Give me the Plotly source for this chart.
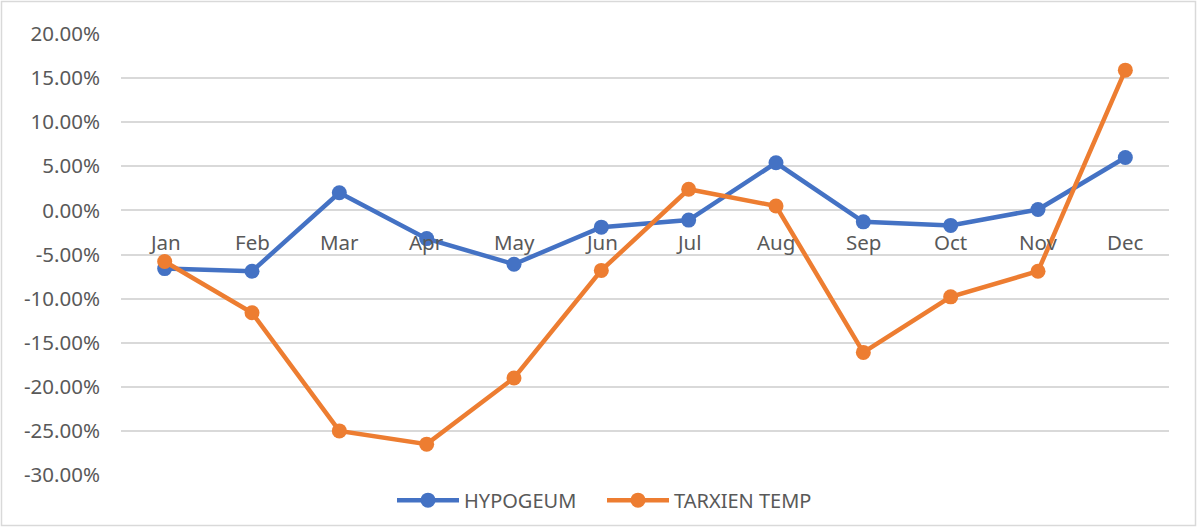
import plotly.graph_objects as go

months = ['Jan', 'Feb', 'Mar', 'Apr', 'May', 'Jun', 'Jul', 'Aug', 'Sep', 'Oct', 'Nov', 'Dec']
hypogeum = [-0.066, -0.069, 0.020, -0.032, -0.061, -0.019, -0.011, 0.054, -0.013, -0.017, 0.001, 0.060]
tarxien = [-0.058, -0.116, -0.250, -0.265, -0.190, -0.068, 0.024, 0.005, -0.161, -0.098, -0.069, 0.159]

y_ticks = [0.20, 0.15, 0.10, 0.05, 0.0, -0.05, -0.10, -0.15, -0.20, -0.25, -0.30]
y_tick_labels = ['20.00%', '15.00%', '10.00%', '5.00%', '0.00%', '-5.00%', '-10.00%',
                 '-15.00%', '-20.00%', '-25.00%', '-30.00%']

W, H = 1197, 527
ML, MR, MT, MB = 121, 28, 34, 52
PW, PH = W - ML - MR, H - MT - MB

font_family = 'Noto Sans, Open Sans, sans-serif'
font_size = 20.5
text_color = '#595959'
grid_color = '#D9D9D9'

fig = go.Figure()

fig.add_trace(go.Scatter(
    x=months, y=hypogeum, name='HYPOGEUM', mode='lines+markers',
    line=dict(color='#4472C4', width=4.5),
    marker=dict(color='#4472C4', size=15)
))
fig.add_trace(go.Scatter(
    x=months, y=tarxien, name='TARXIEN TEMP', mode='lines+markers',
    line=dict(color='#ED7D31', width=4.5),
    marker=dict(color='#ED7D31', size=15)
))

# month labels sit just below the zero line, like Excel's "next to axis"
for m in months:
    fig.add_annotation(
        x=m, y=0, xref='x', yref='y', text=m, showarrow=False,
        yanchor='middle', yshift=-32,
        font=dict(family=font_family, size=font_size, color=text_color)
    )

# chart area border
fig.add_shape(
    type='rect', xref='paper', yref='paper',
    x0=(1.5 - ML) / PW, x1=(W - 1.5 - ML) / PW,
    y0=-(H - 1.5 - MT - PH) / PH, y1=(PH + MT - 1.5) / PH,
    line=dict(color=grid_color, width=1.5), layer='below'
)

fig.update_layout(
    width=W, height=H,
    margin=dict(l=ML, r=MR, t=MT, b=MB, autoexpand=False),
    paper_bgcolor='white', plot_bgcolor='white',
    font=dict(family=font_family, size=font_size, color=text_color),
    showlegend=True,
    legend=dict(
        orientation='h', x=(392 - ML) / PW, xanchor='left', y=-0.057, yanchor='middle',
        font=dict(family=font_family, size=20, color=text_color),
        itemwidth=62, entrywidth=133, bgcolor='rgba(0,0,0,0)'
    ),
    xaxis=dict(
        type='category', range=[-0.5, len(months) - 0.5],
        showticklabels=False, showgrid=False,
        showline=False, zeroline=False, ticks='', automargin=False
    ),
    yaxis=dict(
        range=[-0.30, 0.20], tickvals=y_ticks, ticktext=y_tick_labels,
        showgrid=True, gridcolor=grid_color, gridwidth=1.5,
        zeroline=True, zerolinecolor=grid_color, zerolinewidth=1.5,
        showline=False, ticks='', ticklabelstandoff=20, automargin=False,
        tickfont=dict(family=font_family, size=font_size, color=text_color)
    )
)

fig.write_html('out.html', config={'displayModeBar': False},
               post_script="document.body.style.margin='0';")
